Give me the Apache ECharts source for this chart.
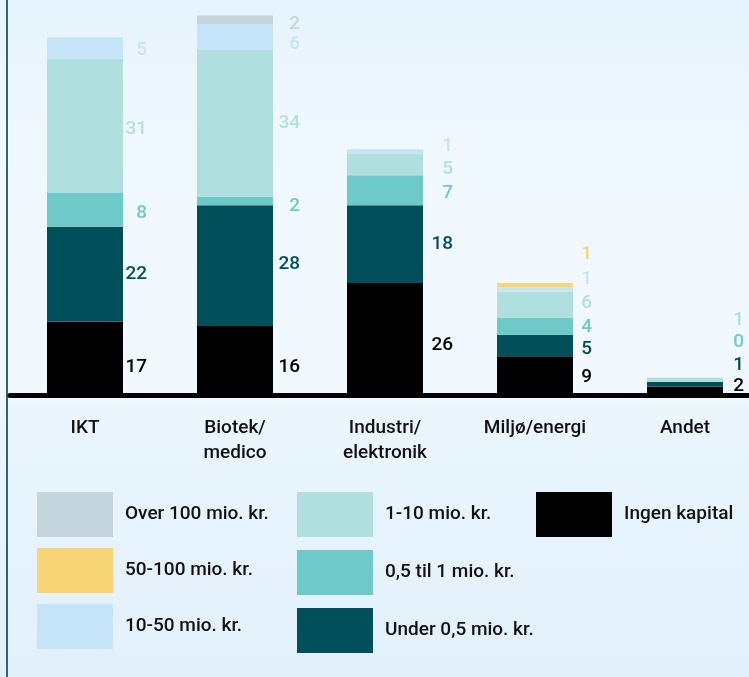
<!DOCTYPE html>
<html>
<head>
<meta charset="utf-8">
<script src="https://cdn.jsdelivr.net/npm/echarts@6/dist/echarts.min.js"></script>
<style>
  html, body { margin: 0; padding: 0; }
  body {
    width: 749px; height: 677px; overflow: hidden;
    background: linear-gradient(to bottom, #e6f3fc 0%, #eff8fe 20%, #f2f9fe 55%, #f1f9fe 58.5%, #eaf5fc 61%, #e6f3fc 80%, #e2f0fb 100%);
  }
  #chart { width: 749px; height: 677px; }
</style>
</head>
<body>
<div id="chart"></div>
<script>
// Antal virksomheder fordelt på branche og rejst kapital
const categories = ['IKT', 'Biotek/\nmedico', 'Industri/\nelektronik', 'Miljø/energi', 'Andet'];

const ingenKapital = [17, 16, 26, 9, 2];
const under05      = [22, 28, 18, 5, 1];
const halvTil1     = [8, 2, 7, 4, 0];
const en10         = [31, 34, 5, 6, 1];
const ti50         = [5, 6, 1, 1, null];
const femti100     = [null, null, null, 1, null];
const over100      = [null, 2, null, null, null];

const seriesNames = ['Ingen kapital', 'Under 0,5 mio. kr.', '0,5 til 1 mio. kr.', '1-10 mio. kr.',
                     '10-50 mio. kr.', '50-100 mio. kr.', 'Over 100 mio. kr.'];
const seriesValues = [ingenKapital, under05, halvTil1, en10, ti50, femti100, over100];
const seriesColors = ['#000000', '#004f5b', '#6ecac8', '#b0dfdf', '#c5e4f8', '#f7d577', '#c5d5dd'];

// label placement: horizontal gap from bar edge to text end, vertical nudge per segment
const labelGapX = [24, 27, 30, 19, 21];
const labelNudgeY = [
  [9, 7, 6, 2, -4],
  [0, -1, 0, 4, -19],
  [4, 5, 3, 1, -40],
  [4, 0, 5, -1, -60],
  [2, 7, -5, -10, 0],
  [0, 0, 0, -31, 0],
  [0, 4, 0, 0, 0]
];

const FONT = 'Roboto';

const series = seriesNames.map((name, s) => ({
  name: name,
  type: 'bar',
  stack: 'total',
  barWidth: 76,
  itemStyle: { color: seriesColors[s] },
  label: {
    show: true,
    position: 'right',
    align: 'right',
    verticalAlign: 'middle',
    color: seriesColors[s],
    fontFamily: FONT,
    fontWeight: 500,
    fontSize: 19
  },
  emphasis: { disabled: true },
  data: seriesValues[s].map((v, i) => v === null ? null : {
    value: v,
    label: { distance: labelGapX[i], offset: [0, labelNudgeY[s][i]] }
  })
}));

const legendBase = {
  orient: 'vertical',
  icon: 'rect',
  itemWidth: 76,
  itemHeight: 45,
  padding: 0,
  selectedMode: false,
  textStyle: { fontFamily: FONT, fontWeight: 500, fontSize: 19, color: '#111', padding: [0, 0, 0, 7] }
};

const chart = echarts.init(document.getElementById('chart'), null, { renderer: 'canvas' });
chart.setOption({
  animation: false,
  backgroundColor: 'transparent',
  grid: { left: 10, width: 750, top: 7, bottom: 282, containLabel: false, outerBoundsMode: 'none' },
  xAxis: {
    type: 'category',
    data: categories,
    offset: 3.5,
    axisTick: { show: false },
    axisLine: { lineStyle: { color: '#000', width: 5 } },
    axisLabel: { fontFamily: FONT, fontWeight: 500, fontSize: 19, lineHeight: 25, color: '#111', margin: 17, interval: 0 }
  },
  yAxis: { type: 'value', min: 0, max: 90, show: false, splitLine: { show: false } },
  legend: [
    Object.assign({}, legendBase, { left: 37, top: 492, itemGap: 11,
      data: ['Over 100 mio. kr.', '50-100 mio. kr.', '10-50 mio. kr.'] }),
    Object.assign({}, legendBase, { left: 297, top: 492, itemGap: 13,
      data: ['1-10 mio. kr.', '0,5 til 1 mio. kr.', 'Under 0,5 mio. kr.'] }),
    Object.assign({}, legendBase, { left: 536, top: 492, itemGap: 13,
      data: ['Ingen kapital'] })
  ],
  graphic: [{
    type: 'line',
    shape: { x1: 7, y1: 0, x2: 7, y2: 677 },
    style: { stroke: '#2f6470', lineWidth: 2 },
    silent: true
  }],
  series: series
});
</script>
</body>
</html>
